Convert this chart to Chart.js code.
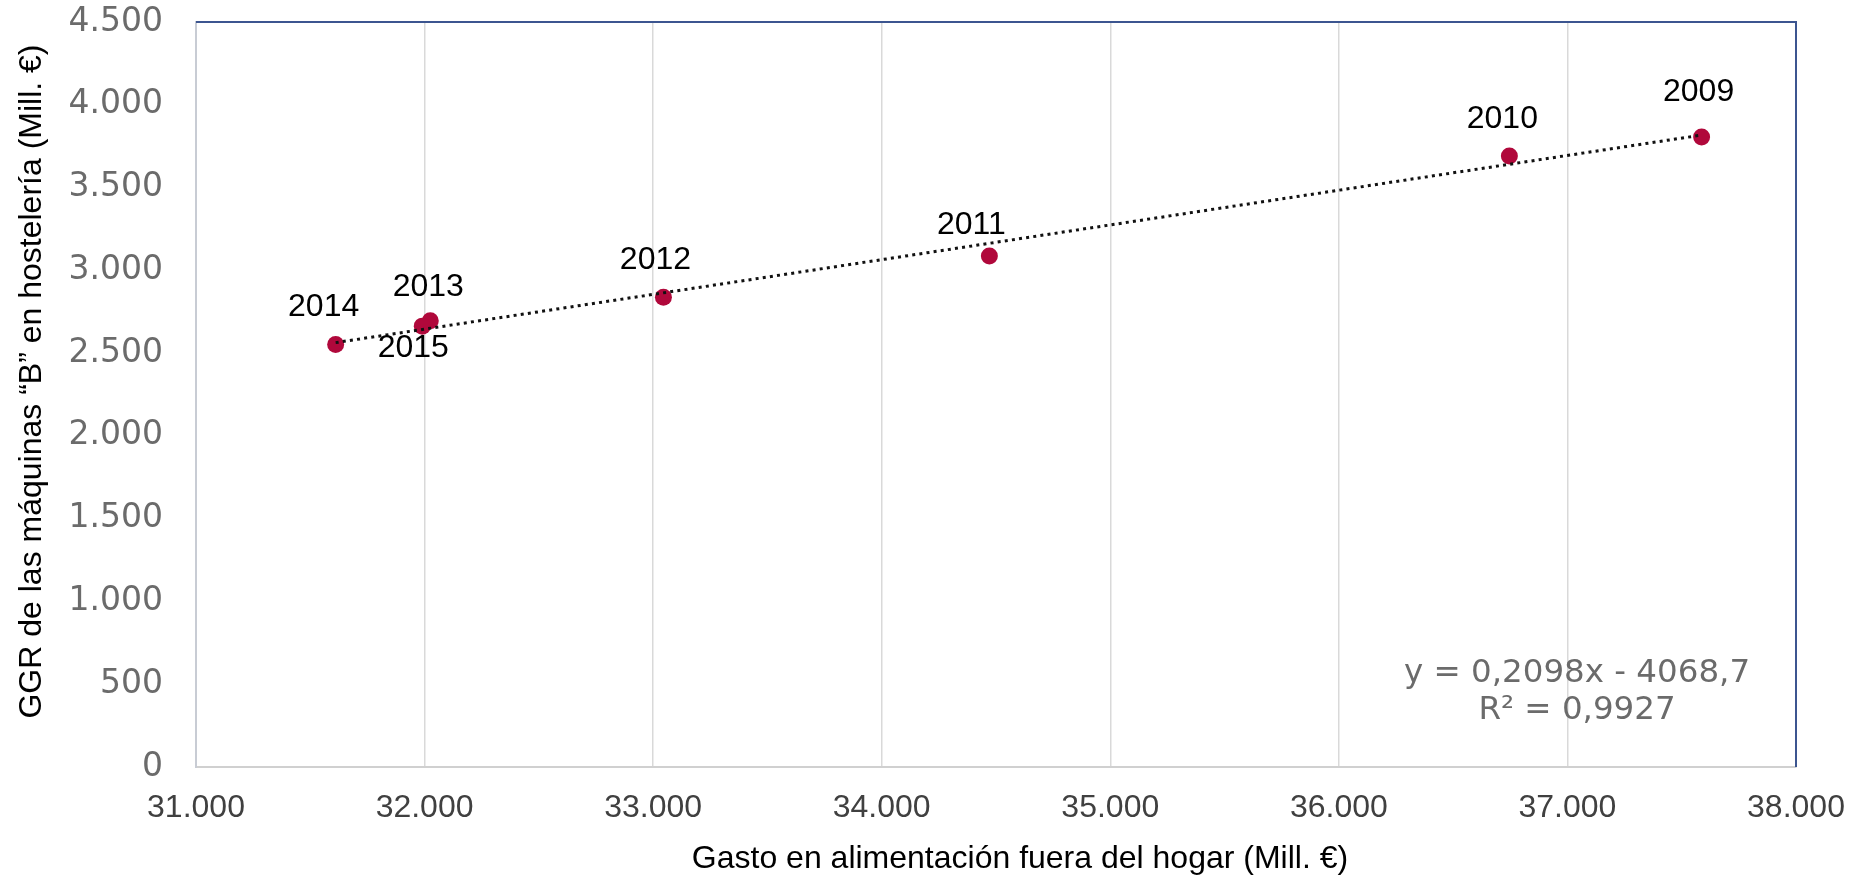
<!DOCTYPE html>
<html lang="es">
<head>
<meta charset="utf-8">
<title>GGR máquinas B vs gasto en alimentación fuera del hogar</title>
<script src="https://cdn.jsdelivr.net/npm/chart.js@4.4.1/dist/chart.umd.min.js"></script>
<style>
  html, body { margin: 0; padding: 0; background: #ffffff; }
  #wrap { width: 1860px; height: 879px; }
</style>
</head>
<body>
<div id="wrap"><canvas id="chart" width="1860" height="879"></canvas></div>
<script>
// Years shown next to each point
const years = ['2009', '2010', '2011', '2012', '2013', '2014', '2015'];
// Gasto en alimentación fuera del hogar (Mill. €)
const gastoAlimentacion = [37587, 36746, 34471, 33045, 32025, 31611, 31990];
// GGR de las máquinas "B" en hostelería (Mill. €)
const ggrMaquinasB = [3805, 3690, 3086, 2838, 2695, 2552, 2663];
// Linear trend: y = a·x + b, R²
const trendSlope = 0.2098;
const trendIntercept = -4068.7;
const trendR2 = '0,9927';
// Axis ranges and steps
const xTicks = { min: 31000, max: 38000, step: 1000 };
const yTicks = { min: 0, max: 4500, step: 500 };

// Label placement around each point (pixels, relative to the point)
const labelOffsets = [[-3, -45], [-7, -37], [-18, -31], [-8, -37], [-2, -34], [-12, -37], [-9, 22]];

const fmtMiles = v => String(Math.round(v)).replace(/\B(?=(\d{3})+(?!\d))/g, '.');
const fmtDec = v => String(v).replace('.', ',');

const scatterPoints = gastoAlimentacion.map((x, i) => ({ x, y: ggrMaquinasB[i] }));
const xMin = Math.min(...gastoAlimentacion);
const xMax = Math.max(...gastoAlimentacion);
const trendPoints = [xMin, xMax].map(x => ({ x, y: trendSlope * x + trendIntercept }));

const ARIAL = '"Liberation Sans", Arial, sans-serif';
const VERDANA = '"DejaVu Sans", Verdana, sans-serif';

const annotations = {
  id: 'annotations',
  afterDraw(chart) {
    const { ctx, chartArea: ca } = chart;
    ctx.save();
    // frame: top and right edges
    ctx.strokeStyle = '#3c5590';
    ctx.lineWidth = 2;
    ctx.beginPath();
    ctx.moveTo(ca.left, ca.top);
    ctx.lineTo(ca.right, ca.top);
    ctx.lineTo(ca.right, ca.bottom);
    ctx.stroke();

    // year labels
    const meta = chart.getDatasetMeta(1);
    ctx.fillStyle = '#000000';
    ctx.font = '32px ' + ARIAL;
    ctx.textAlign = 'center';
    ctx.textBaseline = 'middle';
    meta.data.forEach((pt, i) => {
      const [dx, dy] = labelOffsets[i];
      ctx.fillText(years[i], pt.x + dx, pt.y + dy);
    });

    // trend equation
    ctx.fillStyle = '#6b6b6b';
    ctx.font = '32.5px ' + VERDANA;
    const eqX = ca.right - 219;
    const eqY = ca.bottom - 93;
    ctx.fillText('y = ' + fmtDec(trendSlope) + 'x - ' + fmtDec(Math.abs(trendIntercept)), eqX, eqY);
    ctx.fillText('R² = ' + trendR2, eqX, eqY + 37);

    // axis titles
    ctx.fillStyle = '#000000';
    ctx.font = '32px ' + ARIAL;
    ctx.fillText('Gasto en alimentación fuera del hogar (Mill. €)', (ca.left + ca.right) / 2 + 24, chart.height - 20);
    ctx.translate(32, (ca.top + ca.bottom) / 2 - 13);
    ctx.rotate(-Math.PI / 2);
    ctx.fillText('GGR de las máquinas “B” en hostelería (Mill. €)', 0, 0);
    ctx.restore();
  }
};

new Chart(document.getElementById('chart'), {
  type: 'scatter',
  data: {
    datasets: [
      {
        type: 'line',
        label: 'Tendencia',
        data: trendPoints,
        borderColor: '#111111',
        borderWidth: 3,
        borderDash: [3, 4.2],
        pointRadius: 0,
        fill: false,
        order: 0
      },
      {
        label: 'GGR',
        data: scatterPoints,
        backgroundColor: '#b0083b',
        borderColor: '#b0083b',
        pointRadius: 8.5,
        pointHoverRadius: 8.5,
        borderWidth: 0,
        order: 1
      }
    ]
  },
  options: {
    responsive: false,
    animation: false,
    layout: { padding: { top: 22, right: 64, left: 0, bottom: 0 } },
    plugins: { legend: { display: false }, tooltip: { enabled: false } },
    scales: {
      x: {
        type: 'linear',
        min: xTicks.min,
        max: xTicks.max,
        afterFit(scale) {
          scale.height = 112;
          scale.paddingLeft = 0;
          scale.paddingRight = 0;
        },
        ticks: {
          stepSize: xTicks.step,
          color: '#404040',
          font: { family: ARIAL, size: 32 },
          padding: 22,
          maxRotation: 0,
          callback: v => fmtMiles(v)
        },
        grid: { color: '#d9d9d9', lineWidth: 1.5, drawTicks: false },
        border: { color: '#d0d0d0', width: 2 }
      },
      y: {
        type: 'linear',
        min: yTicks.min,
        max: yTicks.max,
        afterFit(scale) {
          scale.width = 196;
          scale.paddingTop = 0;
          scale.paddingBottom = 0;
        },
        ticks: {
          stepSize: yTicks.step,
          color: '#6b6b6b',
          font: { family: VERDANA, size: 33 },
          padding: 33,
          callback: v => fmtMiles(v)
        },
        grid: { color: 'rgba(0,0,0,0)', drawTicks: false },
        border: { color: '#c8ccd4', width: 2 }
      }
    }
  },
  plugins: [annotations]
});
</script>
</body>
</html>
